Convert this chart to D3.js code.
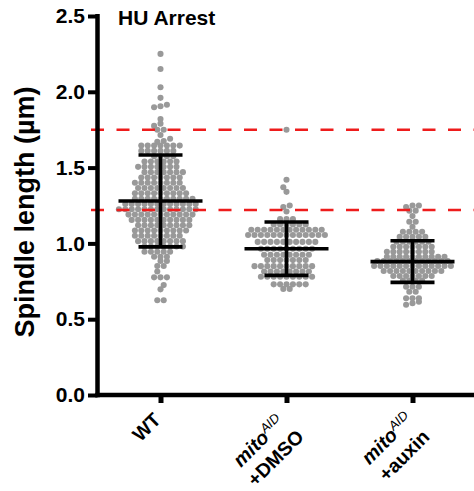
<!DOCTYPE html>
<html>
<head>
<meta charset="utf-8">
<script src="https://cdn.jsdelivr.net/npm/d3@7"></script>
<style>
  html, body { margin: 0; padding: 0; background: #fff; }
  svg { display: block; font-family: "Liberation Sans", Arial, sans-serif; }
</style>
</head>
<body>
<div id="chart"></div>
<script>
// Spindle length scatter dot plot (mean +/- SD), HU arrest

const categories = ["WT", "DMSO", "auxin"];
const labelMain = ["WT", "mito", "mito"];
const labelSup = ["", "AID", "AID"];
const labelSecond = ["", "+DMSO", "+auxin"];

// values read off the dot rows of the picture (one line per row, roughly)
const wtValues = [
  2.25, 2.15, 2.03, 1.96, 1.915, 1.905, 1.898, 1.82, 1.79, 1.775, 1.75, 1.75, 1.715, 1.69, 1.675, 1.67,
  1.645, 1.645, 1.645, 1.645, 1.645, 1.645, 1.645,
  1.61, 1.61, 1.61, 1.61, 1.61, 1.61,
  1.575, 1.575, 1.575, 1.575,
  1.54, 1.54, 1.54, 1.54, 1.54, 1.54,
  1.505, 1.505, 1.505, 1.505, 1.505, 1.505, 1.505,
  1.47, 1.47, 1.47, 1.47, 1.47, 1.47, 1.47,
  1.435, 1.435, 1.435, 1.435, 1.435, 1.435, 1.435,
  1.40, 1.40, 1.40, 1.40, 1.40, 1.40, 1.40, 1.40,
  1.365, 1.365, 1.365, 1.365, 1.365, 1.365, 1.365, 1.365,
  1.33, 1.33, 1.33, 1.33, 1.33, 1.33, 1.33, 1.33, 1.33,
  1.295, 1.295, 1.295, 1.295, 1.295, 1.295, 1.295, 1.295, 1.295, 1.295,
  1.26, 1.26, 1.26, 1.26, 1.26, 1.26, 1.26, 1.26, 1.26, 1.26, 1.26, 1.26,
  1.225, 1.225, 1.225, 1.225, 1.225, 1.225, 1.225, 1.225, 1.225, 1.225, 1.225, 1.225, 1.225,
  1.19, 1.19, 1.19, 1.19, 1.19, 1.19, 1.19, 1.19, 1.19, 1.19, 1.19,
  1.155, 1.155, 1.155, 1.155, 1.155, 1.155, 1.155, 1.155, 1.155, 1.155,
  1.12, 1.12, 1.12, 1.12, 1.12, 1.12, 1.12, 1.12, 1.12,
  1.085, 1.085, 1.085, 1.085, 1.085, 1.085, 1.085, 1.085, 1.085,
  1.05, 1.05, 1.05, 1.05, 1.05, 1.05, 1.05, 1.05,
  1.015, 1.015, 1.015, 1.015, 1.015, 1.015, 1.015, 1.015,
  0.98, 0.98, 0.98, 0.98, 0.98, 0.98, 0.98,
  0.945, 0.945, 0.945, 0.945, 0.945,
  0.912, 0.912, 0.912, 0.884, 0.884, 0.851, 0.851, 0.815,
  0.776, 0.776, 0.776, 0.725, 0.697, 0.625, 0.625
];

const dmsoValues = [
  1.75, 1.42, 1.37, 1.34, 1.25, 1.24, 1.21,
  1.16, 1.16, 1.16,
  1.125, 1.125, 1.125, 1.125, 1.125, 1.125,
  1.09, 1.09, 1.09, 1.09, 1.09, 1.09, 1.09, 1.09, 1.09, 1.09, 1.09, 1.09,
  1.055, 1.055, 1.055, 1.055, 1.055, 1.055, 1.055, 1.055, 1.055, 1.055, 1.055, 1.055, 1.055,
  1.01, 1.01, 1.01, 1.01, 1.01, 1.01, 1.01, 1.01, 1.01, 1.01,
  0.965, 0.965, 0.965, 0.965, 0.965, 0.965, 0.965, 0.965, 0.965,
  0.925, 0.925, 0.925, 0.925, 0.925, 0.925, 0.925, 0.925,
  0.89, 0.89, 0.89, 0.89, 0.89, 0.89, 0.89,
  0.85, 0.85, 0.85, 0.85, 0.85, 0.85, 0.85, 0.85, 0.85, 0.85,
  0.815, 0.815, 0.815, 0.815, 0.815, 0.815, 0.815, 0.815,
  0.78, 0.78, 0.78, 0.78, 0.78, 0.78, 0.78, 0.78, 0.78,
  0.73, 0.73, 0.73, 0.73, 0.73, 0.73,
  0.70, 0.70
];

const auxinValues = [
  1.25, 1.25, 1.24,
  1.216, 1.216,
  1.18,
  1.143, 1.143,
  1.11,
  1.077, 1.077, 1.077, 1.077,
  1.044, 1.044, 1.044, 1.044, 1.044,
  1.011, 1.011, 1.011, 1.011, 1.011, 1.011,
  0.978, 0.978, 0.978, 0.978, 0.978, 0.978, 0.978,
  0.945, 0.945, 0.945, 0.945, 0.945, 0.945, 0.945, 0.945,
  0.912, 0.912, 0.912, 0.912, 0.912, 0.912, 0.912, 0.912, 0.912, 0.912,
  0.884, 0.884, 0.884, 0.884, 0.884, 0.884, 0.884, 0.884, 0.884, 0.884, 0.884, 0.884,
  0.851, 0.851, 0.851, 0.851, 0.851, 0.851, 0.851, 0.851, 0.851, 0.851, 0.851, 0.851, 0.851,
  0.818, 0.818, 0.818, 0.818, 0.818, 0.818, 0.818, 0.818, 0.818, 0.818,
  0.785, 0.785, 0.785, 0.785, 0.785, 0.785, 0.785,
  0.755, 0.755, 0.755, 0.755,
  0.714, 0.714, 0.714,
  0.681, 0.681,
  0.638, 0.638, 0.638,
  0.615, 0.605, 0.595
];

const meanVals = [1.28, 0.965, 0.88];
const sdVals = [0.303, 0.176, 0.137];
const refLines = [1.75, 1.22];
const yTicks = [0, 0.5, 1.0, 1.5, 2.0, 2.5];

const width = 474;
const height = 491;
const axisX = 97.5;
const axisY = 395;

const svg = d3.select('#chart').append('svg')
  .attr('width', width)
  .attr('height', height);

const y = d3.scaleLinear().domain([0, 2.5]).range([axisY, 16]);
const x = d3.scalePoint().domain(categories).range([axisX, 475.5]).padding(0.5);

// row layout like a scatter dot plot: nearby values share a row, centred on the category
function rowLayout(values, sp, diam) {
  const sorted = values.slice().sort((a, b) => a - b);
  const rows = [];
  sorted.forEach(v => {
    const last = rows[rows.length - 1];
    if (last && v - last[0] < 0.022) last.push(v);
    else rows.push([v]);
  });
  const out = [];
  let prev = null, flip = 1;
  rows.forEach(row => {
    const n = row.length;
    const ry = y(row[0]);
    let shift = 0;
    if (prev && Math.abs(prev.y - ry) < diam && prev.n % 2 === n % 2) {
      shift = flip * sp / 2;
      flip = -flip;
    }
    row.forEach((v, k) => {
      out.push({ x: (k - (n - 1) / 2) * sp + shift, y: y(v), v });
    });
    prev = { y: ry, n: n };
  });
  return out;
}

const groups = [wtValues, dmsoValues, auxinValues];

const dots = svg.append('g');
groups.forEach((vals, gi) => {
  const cx = x(categories[gi]);
  dots.selectAll(null)
    .data(rowLayout(vals, 6.4, 6.1))
    .enter().append('circle')
    .attr('cx', d => cx + d.x)
    .attr('cy', d => d.y)
    .attr('r', 3.05)
    .attr('fill', '#999999');
});

// red reference lines
svg.append('g').selectAll('line')
  .data(refLines)
  .enter().append('line')
  .attr('x1', 91)
  .attr('x2', width)
  .attr('y1', d => y(d))
  .attr('y2', d => y(d))
  .attr('stroke', '#ee1c1c')
  .attr('stroke-width', 2.5)
  .attr('stroke-dasharray', '13,12.5');

// mean and SD bars
const bars = svg.append('g').attr('stroke', '#000').attr('stroke-width', 3.6);
categories.forEach((c, i) => {
  const cx = x(c);
  const m = meanVals[i], s = sdVals[i];
  bars.append('line').attr('x1', cx - 42).attr('x2', cx + 42).attr('y1', y(m)).attr('y2', y(m));
  bars.append('line').attr('x1', cx).attr('x2', cx).attr('y1', y(m + s)).attr('y2', y(m - s));
  bars.append('line').attr('x1', cx - 22).attr('x2', cx + 22).attr('y1', y(m + s)).attr('y2', y(m + s));
  bars.append('line').attr('x1', cx - 22).attr('x2', cx + 22).attr('y1', y(m - s)).attr('y2', y(m - s));
});

// y axis
const yAxis = svg.append('g')
  .attr('transform', `translate(${axisX},0)`)
  .call(d3.axisLeft(y).tickValues(yTicks).tickFormat(d3.format('.1f')).tickSize(9.5).tickSizeOuter(0).tickPadding(3));
yAxis.select('.domain').remove();
yAxis.append('line').attr('x1', 0).attr('x2', 0).attr('y1', 14).attr('y2', axisY + 2.25)
  .attr('stroke', '#000').attr('stroke-width', 4.5);
yAxis.selectAll('.tick line').attr('stroke', '#000').attr('stroke-width', 4);
yAxis.selectAll('.tick text')
  .attr('fill', '#000')
  .style('font-family', '"Liberation Sans", Arial, sans-serif')
  .style('font-size', '21px')
  .style('font-weight', 'bold');

// x axis
const xAxis = svg.append('g')
  .attr('transform', `translate(0,${axisY})`)
  .call(d3.axisBottom(x).tickSize(8).tickSizeOuter(0).tickFormat(''));
xAxis.select('.domain').remove();
xAxis.append('line').attr('x1', axisX - 2.25).attr('x2', width).attr('y1', 0).attr('y2', 0)
  .attr('stroke', '#000').attr('stroke-width', 4.5);
xAxis.selectAll('.tick line').attr('stroke', '#000').attr('stroke-width', 5);

// category labels, rotated 45 degrees, right end at the tick;
// two-line labels are centred lines inside one text
const fs = 19.5;
const lineGap = 24;
categories.forEach((c, i) => {
  const cx = x(c);
  const twoLines = labelSecond[i] !== '';
  const t = svg.append('text')
    .attr('transform', `translate(${cx + 1.5},421) rotate(-45)`)
    .style('font-size', fs + 'px')
    .style('font-weight', 'bold');
  if (!twoLines) {
    t.attr('text-anchor', 'end').text(labelMain[i]);
    return;
  }
  t.attr('text-anchor', 'middle');
  const a = t.append('tspan').attr('x', 0).attr('y', 0).style('font-style', 'italic').text(labelMain[i]);
  const b = t.append('tspan').attr('dy', -7)
    .style('font-size', '13px').style('font-style', 'italic').style('font-weight', 'normal')
    .text(labelSup[i]);
  const l2 = t.append('tspan').attr('x', 0).attr('y', lineGap).text(labelSecond[i]);
  const w1 = a.node().getComputedTextLength() + b.node().getComputedTextLength();
  const w2 = l2.node().getComputedTextLength();
  const w = Math.max(w1, w2);
  a.attr('x', -w / 2);
  l2.attr('x', -w / 2);
});

// y axis title
svg.append('text')
  .attr('transform', 'translate(34,212) rotate(-90)')
  .attr('text-anchor', 'middle')
  .style('font-size', '27px')
  .style('font-weight', 'bold')
  .text('Spindle length (µm)');

// panel title
svg.append('text')
  .attr('x', 118)
  .attr('y', 25)
  .style('font-size', '21px')
  .style('font-weight', 'bold')
  .text('HU Arrest');
</script>
</body>
</html>
